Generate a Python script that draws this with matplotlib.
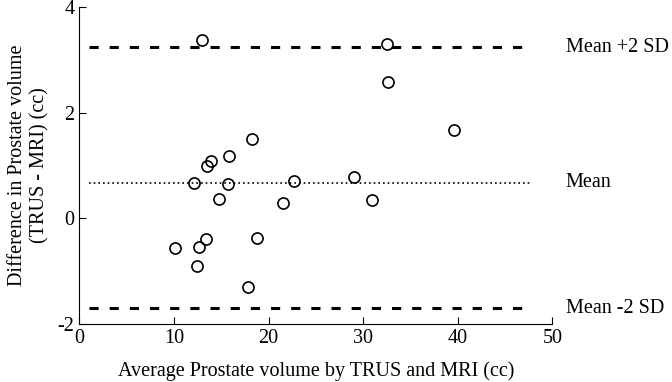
import numpy as np
import matplotlib.pyplot as plt

# average volume (cc) and difference TRUS - MRI (cc)
avg_vol = [13.0, 18.2, 15.8, 13.9, 13.45, 12.1, 15.7, 22.7, 14.8, 21.5,
           10.1, 12.7, 13.35, 18.8, 12.4, 17.8, 32.5, 32.6, 39.6, 29.0, 30.9]
diff_vol = [3.38, 1.50, 1.18, 1.09, 0.98, 0.66, 0.64, 0.71, 0.36, 0.28,
            -0.56, -0.54, -0.40, -0.38, -0.90, -1.31, 3.30, 2.57, 1.67, 0.79, 0.34]

mean_diff = 0.67
upper_sd = 3.24
lower_sd = -1.70
line_x = [1, 47.6]

plt.rcParams['font.family'] = ['Liberation Serif', 'DejaVu Serif']
plt.rcParams['axes.unicode_minus'] = False

fs = 14.5
fig = plt.figure(figsize=(6.72, 3.82), dpi=100)
ax = fig.add_axes([0.118, 0.152, 0.704, 0.83])

ax.plot(avg_vol, diff_vol, 'o', mfc='none', mec='black', ms=8, mew=1.2)
ax.plot(line_x, [upper_sd, upper_sd], color='black', lw=2.2, dashes=(3, 3.6))
ax.plot(line_x, [lower_sd, lower_sd], color='black', lw=2.2, dashes=(3, 3.6))
ax.plot(line_x, [mean_diff, mean_diff], color='black', lw=1.2, dashes=(1, 1.8))

ax.text(51.4, upper_sd, 'Mean +2 SD', va='center', fontsize=fs, clip_on=False)
ax.text(51.4, mean_diff, 'Mean', va='center', fontsize=fs, clip_on=False)
ax.text(51.4, lower_sd, 'Mean -2 SD', va='center', fontsize=fs, clip_on=False)

ax.set_xlim(0, 50)
ax.set_ylim(-2, 4)
ax.set_xticks([0, 10, 20, 30, 40, 50])
ax.set_yticks([-2, 0, 2, 4])
ax.spines['top'].set_visible(False)
ax.spines['right'].set_visible(False)
ax.tick_params(direction='in', length=5, labelsize=fs)
ax.set_xlabel('Average Prostate volume by TRUS and MRI (cc)', fontsize=fs, labelpad=10)
ax.set_ylabel('Difference in Prostate volume\n(TRUS - MRI) (cc)', fontsize=fs, labelpad=6)

fig.savefig('out.png', dpi=100)
